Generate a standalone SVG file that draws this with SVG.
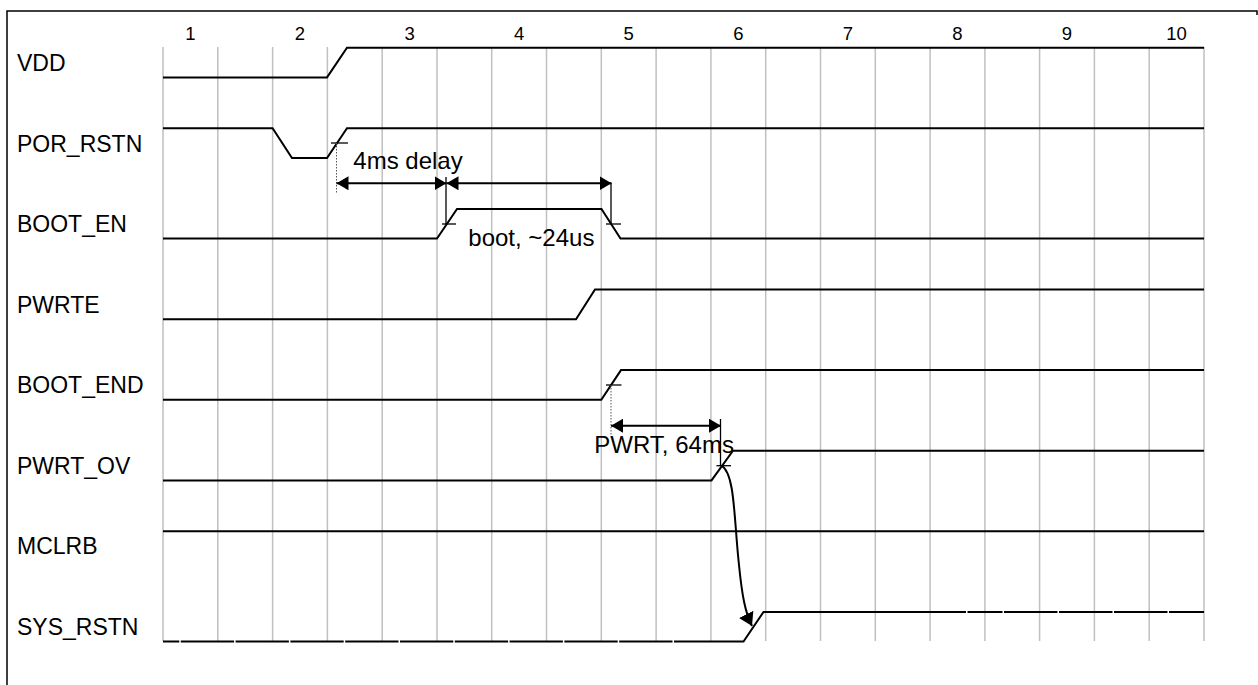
<svg xmlns="http://www.w3.org/2000/svg" width="1258" height="685" viewBox="0 0 1258 685">
<style>
.bg{fill:#ffffff}
.frame{fill:none;stroke:#000;stroke-width:1.5}
.grid{stroke:#c0c0c0;stroke-width:1.5}
.sig{fill:none;stroke:#000;stroke-width:2}
.tick{stroke:#000;stroke-width:1.3}
.dot{stroke:#555;stroke-width:1;stroke-dasharray:1.5 1.5}
.arr{fill:none;stroke:#000;stroke-width:2}
.lbl{font-family:"Liberation Sans",Arial,sans-serif;font-size:23px;fill:#000}
.num{font-family:"Liberation Sans",Arial,sans-serif;font-size:18.5px;fill:#000;text-anchor:middle}
.ann{font-family:"Liberation Sans",Arial,sans-serif;font-size:24px;fill:#000}
</style>
<defs>
<marker id="ah" viewBox="0 0 12 14" refX="12" refY="7" markerWidth="12" markerHeight="14" markerUnits="userSpaceOnUse" orient="auto-start-reverse">
<path d="M0,0 L12,7 L0,14 z" fill="#000"/>
</marker>
<marker id="ah2" viewBox="0 0 13 16" refX="13" refY="8" markerWidth="13" markerHeight="16" markerUnits="userSpaceOnUse" orient="auto">
<path d="M0,0 L13,8 L0,16 z" fill="#000"/>
</marker>
</defs>
<rect class="bg" x="0" y="0" width="1258" height="685"/>
<path class="frame" d="M7,685 V11 H1257 V15"/>
<g id="grid">
<path class="grid" d="M163,47V641 M217.8,47V641 M272.6,47V641 M327.4,47V641 M382.2,47V641 M437,47V641 M491.7,47V641 M546.5,47V641 M601.3,47V641 M656.1,47V641 M710.9,47V641 M765.7,47V641 M820.5,47V641 M875.3,47V641 M930.1,47V641 M984.9,47V641 M1039.6,47V641 M1094.4,47V641 M1149.2,47V641 M1204,47V641"/>
<text class="num" x="190.4" y="40">1</text>
<text class="num" x="300" y="40">2</text>
<text class="num" x="409.6" y="40">3</text>
<text class="num" x="519.2" y="40">4</text>
<text class="num" x="628.7" y="40">5</text>
<text class="num" x="738.3" y="40">6</text>
<text class="num" x="847.9" y="40">7</text>
<text class="num" x="957.5" y="40">8</text>
<text class="num" x="1067" y="40">9</text>
<text class="num" x="1176.6" y="40">10</text>
</g>
<g id="VDD">
<text class="lbl" x="17" y="71">VDD</text>
<path class="sig" d="M163,77.4 H327 L347,47.7 H1204"/>
</g>
<g id="POR_RSTN">
<text class="lbl" x="17" y="151.6">POR_RSTN</text>
<path class="sig" d="M163,128.3 H272.6 L292,158 H327 L347,128.3 H1204"/>
<line class="tick" x1="331" y1="143" x2="348" y2="143"/>
</g>
<g id="BOOT_EN">
<text class="lbl" x="17" y="232.2">BOOT_EN</text>
<path class="sig" d="M163,238.6 H437 L457,208.9 H601.5 L620.5,238.6 H1204"/>
<line class="tick" x1="442" y1="224" x2="456" y2="224"/>
<line class="tick" x1="606" y1="224" x2="621" y2="224"/>
</g>
<g id="PWRTE">
<text class="lbl" x="17" y="312.8">PWRTE</text>
<path class="sig" d="M163,319.2 H576 L595,289.5 H1204"/>
</g>
<g id="BOOT_END">
<text class="lbl" x="17" y="393.4">BOOT_END</text>
<path class="sig" d="M163,399.8 H601.3 L621,370.1 H1204"/>
<line class="tick" x1="606" y1="385" x2="621.5" y2="385"/>
</g>
<g id="PWRT_OV">
<text class="lbl" x="17" y="474">PWRT_OV</text>
<path class="sig" d="M163,480.4 H711.5 L733,450.7 H1204"/>
<line class="tick" x1="716.5" y1="465.7" x2="731" y2="465.7"/>
</g>
<g id="MCLRB">
<text class="lbl" x="17" y="554.4">MCLRB</text>
<path class="sig" d="M163,531.3 H1204"/>
</g>
<g id="SYS_RSTN">
<text class="lbl" x="17" y="635">SYS_RSTN</text>
<path class="sig" d="M163,641.6 H179.3 M180.8,641.6 H234.1 M235.6,641.6 H288.9 M290.4,641.6 H343.7 M345.2,641.6 H398.5 M400,641.6 H453.3 M454.8,641.6 H508.1 M509.6,641.6 H562.9 M564.4,641.6 H617.7 M619.2,641.6 H672.5 M674,641.6 H743.5 L763.5,611.9 H966 M967.5,611.9 H1002.5 M1004,611.9 H1057.5 M1059,611.9 H1112.5 M1114,611.9 H1167.5 M1169,611.9 H1204"/>
</g>
<g id="connectors">
<line class="dot" x1="336.5" y1="143" x2="336.5" y2="193"/>
<line class="dot" x1="611" y1="385" x2="611" y2="435"/>
<line class="arr" x1="336.5" y1="183.3" x2="446.5" y2="183.3" marker-start="url(#ah)" marker-end="url(#ah)"/>
<line class="arr" x1="446.5" y1="183.3" x2="611.5" y2="183.3" marker-start="url(#ah)" marker-end="url(#ah)"/>
<line class="tick" x1="446" y1="177" x2="446" y2="224"/>
<line class="tick" x1="611" y1="183" x2="611" y2="224"/>
<line class="arr" x1="611" y1="425.7" x2="721" y2="425.7" marker-start="url(#ah)" marker-end="url(#ah)"/>
<line class="tick" x1="720.5" y1="419" x2="720.5" y2="466"/>
<path class="arr" d="M722,466 C735,474 734,520 739,565 C742,595 745,612 752,626" marker-end="url(#ah2)"/>
<text class="ann" x="353.3" y="169.3">4ms delay</text>
<text class="ann" x="468.3" y="246">boot, ~24us</text>
<text class="ann" x="594.3" y="453.3">PWRT, 64ms</text>
</g>
</svg>
